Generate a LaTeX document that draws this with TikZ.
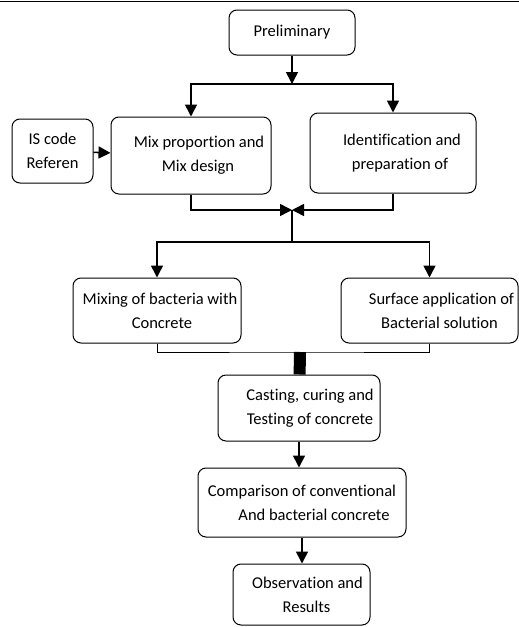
\documentclass[tikz,border=0pt]{standalone}
\usepackage{fontspec}
\setmainfont{Carlito}[RawFeature=-liga]
\usetikzlibrary{arrows.meta,positioning,calc}

\begin{document}
\begin{tikzpicture}[x=1pt, y=-1pt, font=\fontsize{16.5}{24}\selectfont,
        box/.style={draw, line width=1pt, rounded corners=8pt, align=center, inner sep=0pt},
        arr/.style={-{Triangle[width=12pt,length=12pt]}, line width=1.6pt}]
            \useasboundingbox (0,0) rectangle (519,627);
            \draw[line width=1.2pt] (0,1.5) -- (519,1.5);
            % boxes
            \node[box, minimum width=126pt, minimum height=45pt] (pre) at (292,32.5) {Preliminary};
            \node[box, minimum width=81pt, minimum height=64pt] (iscode) at (52.5,151) {IS code\\Referen};
            \node[box, minimum width=160pt, minimum height=77pt] (mix) at (191,155.5) {\hspace*{16pt}Mix proportion and\\\hspace*{14pt}Mix design};
            \node[box, minimum width=166pt, minimum height=80pt] (ident) at (393,153) {\hspace*{18pt}Identification and\\\hspace*{14pt}preparation of};
            \node[box, minimum width=168pt, minimum height=65pt] (mixing) at (157,310.5) {\hspace*{6pt}Mixing of bacteria with\\\hspace*{10pt}Concrete};
            \node[box, minimum width=177pt, minimum height=65pt] (surface) at (429.5,310.5) {\hspace*{24pt}Surface application of\\\hspace*{20pt}Bacterial solution};
            \node[box, minimum width=162pt, minimum height=66pt] (cast) at (299,408) {\hspace*{22pt}Casting, curing and\\\hspace*{22pt}Testing of concrete};
            \node[box, minimum width=208pt, minimum height=69pt] (comp) at (302,502.5) {Comparison of conventional\\\hspace*{24pt}And bacterial concrete};
            \node[box, minimum width=137pt, minimum height=61pt] (obs) at (301.5,594.5) {\hspace*{12pt}Observation and\\\hspace*{10pt}Results};
            % junctions
            \coordinate (topsplit) at (292,84);
            \coordinate (midjoin) at (292,210);
            \coordinate (midsplit) at (292,242);
            \coordinate (lowjoin) at (300,352);
            % connectors
            \draw[arr] (pre) -- (topsplit);
            \draw[arr] (topsplit) -| (mix);
            \draw[arr] (topsplit) -| (ident);
            \draw[arr] (iscode) -- (mix);
            \draw[arr] (mix) |- (midjoin);
            \draw[arr] (ident) |- (midjoin);
            \draw[line width=1.6pt] (midjoin) -- (midsplit);
            \draw[arr] (midsplit) -| (mixing);
            \draw[arr] (midsplit) -| (surface);
            \draw[line width=1pt] (mixing) |- (lowjoin) -| (surface);
            \draw[line width=12pt] (lowjoin) -- (cast);
            \draw[arr] (cast) -- (cast.south |- comp.north);
            \draw[arr] (comp) -- (comp.south |- obs.north);
        \end{tikzpicture}
\end{document}
